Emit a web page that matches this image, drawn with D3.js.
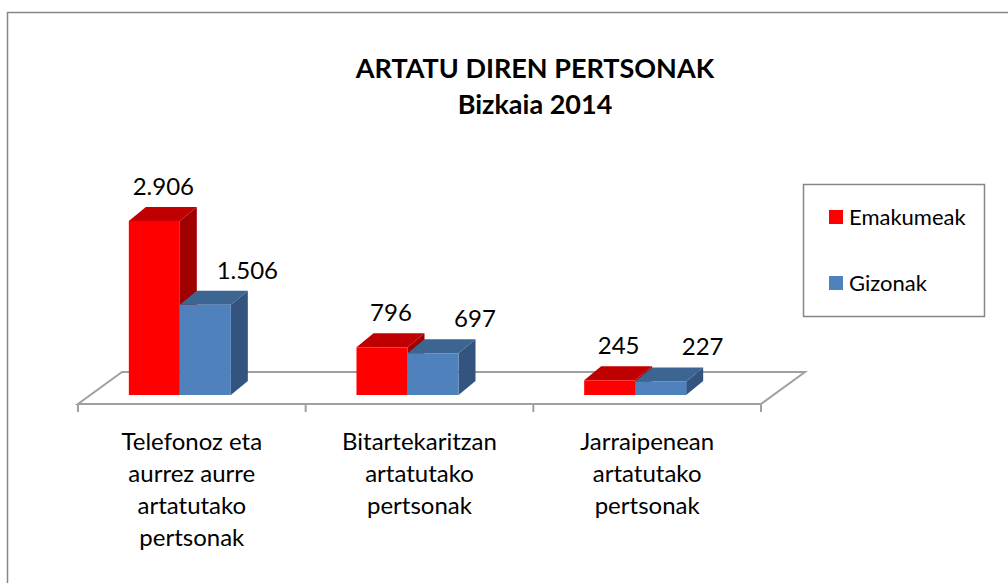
<!DOCTYPE html>
<html>
<head>
<meta charset="utf-8">
<script src="https://cdn.jsdelivr.net/npm/d3@7"></script>
<style>
  body { margin: 0; background: #fff; }
  text { font-family: Lato, "Open Sans", sans-serif; }
</style>
</head>
<body>
<div class="canvas"></div>
<script>
// Data
const categories = ["Telefonoz eta aurrez aurre artatutako pertsonak",
                    "Bitartekaritzan artatutako pertsonak",
                    "Jarraipenean artatutako pertsonak"];
const categoryLines = [["Telefonoz eta", "aurrez aurre", "artatutako", "pertsonak"],
                       ["Bitartekaritzan", "artatutako", "pertsonak"],
                       ["Jarraipenean", "artatutako", "pertsonak"]];
const seriesNames = ["Emakumeak", "Gizonak"];
const emakumeak = [2906, 796, 245];
const gizonak = [1506, 697, 227];
const valueLabels = [["2.906", "796", "245"], ["1.506", "697", "227"]];

const colors = [
  { front: "#ff0000", top: "#c00000", side: "#a00000" },
  { front: "#4f81bd", top: "#3d6592", side: "#33547e" }
];

const W = 1008, H = 583;

const svg = d3.select(".canvas")
  .append("svg")
    .attr("width", W)
    .attr("height", H);

// chart border
svg.append("rect")
  .attr("x", 7.5).attr("y", 12.5)
  .attr("width", 1010).attr("height", 600)
  .attr("fill", "#fff")
  .attr("stroke", "#868686")
  .attr("stroke-width", 1.5);

// scales
const x = d3.scaleBand()
  .domain(categories)
  .range([78, 761]);

const y = d3.scaleLinear()
  .domain([0, 3000])
  .range([395, 215.3]);

// floor depth (projection of the 3D floor)
const floorDx = 44, floorDy = -32;
const floorY = 404;
const barDx = 17, barDy = -14;
const barW = 51;

// floor
const floorPts = [[78, floorY], [761, floorY], [761 + floorDx, floorY + floorDy], [78 + floorDx, floorY + floorDy]];
svg.append("path")
  .attr("d", d3.line()(floorPts) + "Z")
  .attr("fill", "none")
  .attr("stroke", "#a0a0a0")
  .attr("stroke-width", 2);

// ticks
const tickPos = categories.map(c => x(c)).concat([x.range()[1]]);
svg.selectAll(".tick")
  .data(tickPos)
  .join("line")
    .attr("x1", d => d).attr("x2", d => d)
    .attr("y1", floorY).attr("y2", floorY + 8)
    .attr("stroke", "#a0a0a0")
    .attr("stroke-width", 2);

// bars
const series = [emakumeak, gizonak];
series.forEach((vals, s) => {
  vals.forEach((v, i) => {
    const cx = x(categories[i]) + x.bandwidth() / 2 - 12;
    const x0 = cx - barW + s * barW;
    const x1 = x0 + barW;
    const y0 = y(0), y1 = y(v);
    const g = svg.append("g");
    // side
    g.append("path")
      .attr("d", d3.line()([[x1, y0], [x1 + barDx, y0 + barDy], [x1 + barDx, y1 + barDy], [x1, y1]]) + "Z")
      .attr("fill", colors[s].side);
    // top
    g.append("path")
      .attr("d", d3.line()([[x0, y1], [x1, y1], [x1 + barDx, y1 + barDy], [x0 + barDx, y1 + barDy]]) + "Z")
      .attr("fill", colors[s].top);
    // front
    g.append("rect")
      .attr("x", x0).attr("y", y1)
      .attr("width", barW).attr("height", y0 - y1)
      .attr("fill", colors[s].front);
    // label
    g.append("text")
      .attr("x", (x0 + x1) / 2 + (s === 0 ? 9 : 42))
      .attr("y", y1 + barDy - 12)
      .attr("text-anchor", "middle")
      .attr("font-size", 24)
      .attr("fill", "#000")
      .text(valueLabels[s][i]);
  });
});

// category labels
categories.forEach((c, i) => {
  const t = svg.append("text")
    .attr("text-anchor", "middle")
    .attr("font-size", 24)
    .attr("fill", "#000");
  categoryLines[i].forEach((ln, j) => {
    t.append("tspan")
      .attr("x", x(c) + x.bandwidth() / 2)
      .attr("y", 450 + j * 32)
      .text(ln);
  });
});

// title
svg.append("text")
  .attr("x", 535).attr("y", 78)
  .attr("text-anchor", "middle")
  .attr("font-size", 27).attr("font-weight", "bold")
  .text("ARTATU DIREN PERTSONAK");
svg.append("text")
  .attr("x", 535).attr("y", 114)
  .attr("text-anchor", "middle")
  .attr("font-size", 27).attr("font-weight", "bold")
  .text("Bizkaia 2014");

// legend
const legend = svg.append("g");
legend.append("rect")
  .attr("x", 803.5).attr("y", 184.5)
  .attr("width", 181).attr("height", 132)
  .attr("fill", "#fff")
  .attr("stroke", "#868686")
  .attr("stroke-width", 1.5);
seriesNames.forEach((n, i) => {
  legend.append("rect")
    .attr("x", 829).attr("y", 210 + i * 66)
    .attr("width", 14).attr("height", 14)
    .attr("fill", colors[i].front);
  legend.append("text")
    .attr("x", 849).attr("y", 225 + i * 66)
    .attr("font-size", 22)
    .text(n);
});
</script>
</body>
</html>
